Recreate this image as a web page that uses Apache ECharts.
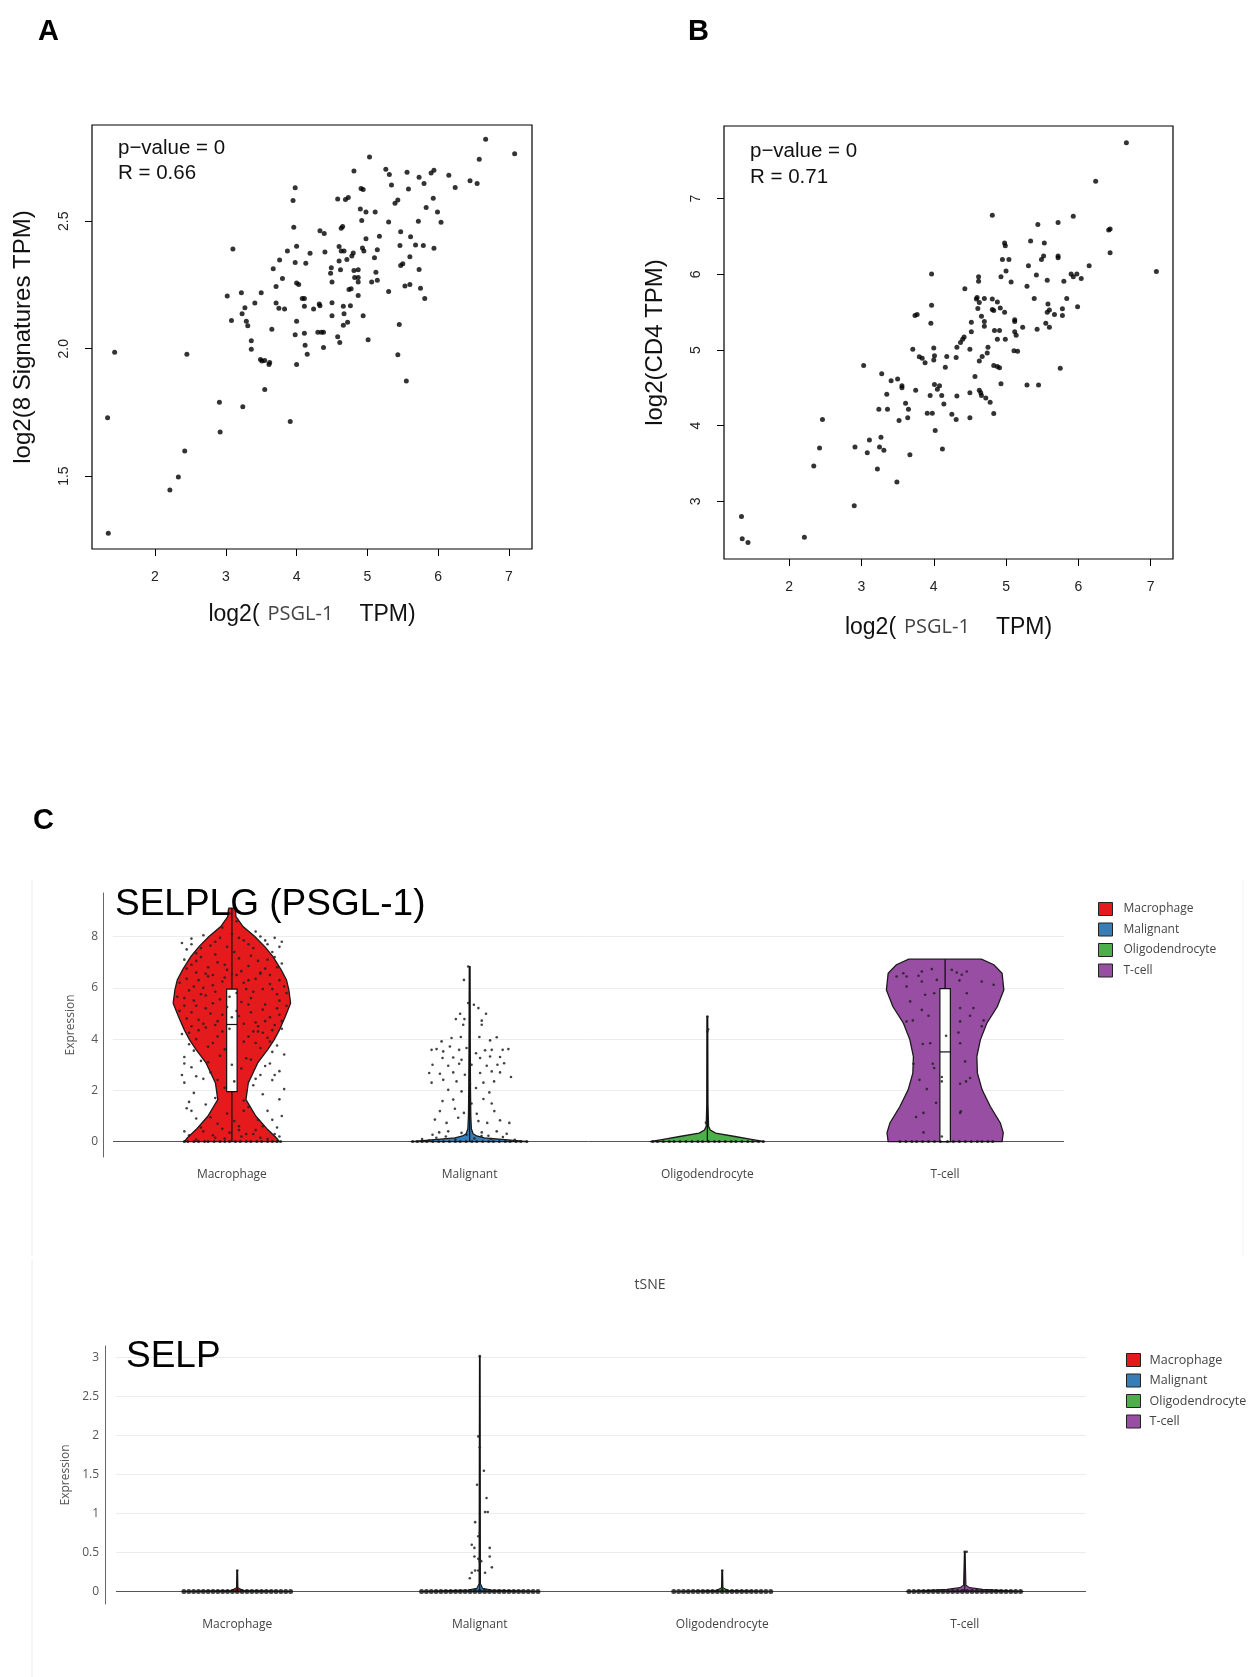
<!DOCTYPE html>
<html><head><meta charset="utf-8">
<script src="https://cdn.jsdelivr.net/npm/echarts@6/dist/echarts.min.js"></script>
<style>html,body{margin:0;padding:0;background:#fff}#c{width:1250px;height:1677px}</style>
</head><body><div id="c"></div>
<script>
// ---------------- DATA ----------------
// Panel A: log2(PSGL-1 TPM) vs log2(8 Signatures TPM)
const scatterA = [[6.67,2.822],[7.08,2.765],[5.03,2.752],[6.58,2.744],[4.81,2.697],[5.26,2.704],[5.31,2.684],[5.56,2.693],[5.73,2.673],[5.90,2.690],[5.94,2.700],[6.15,2.681],[6.45,2.659],[6.55,2.648],[5.80,2.648],[5.34,2.643],[6.24,2.633],[5.58,2.627],[4.91,2.629],[4.94,2.625],[3.98,2.632],[3.95,2.582],[4.58,2.588],[4.69,2.586],[4.73,2.593],[5.43,2.584],[5.39,2.571],[5.93,2.591],[5.83,2.554],[4.90,2.548],[4.98,2.537],[5.11,2.537],[5.99,2.537],[4.92,2.503],[5.30,2.497],[5.72,2.500],[6.04,2.496],[3.96,2.477],[4.63,2.473],[4.65,2.480],[4.33,2.463],[4.39,2.452],[5.47,2.459],[4.98,2.432],[5.17,2.441],[5.61,2.439],[5.46,2.405],[5.68,2.407],[5.79,2.405],[5.94,2.394],[3.10,2.391],[4.00,2.402],[3.87,2.384],[4.60,2.401],[4.63,2.384],[4.93,2.395],[4.95,2.384],[5.14,2.388],[4.19,2.375],[4.40,2.380],[4.80,2.376],[4.78,2.364],[4.67,2.384],[3.76,2.348],[3.98,2.338],[4.13,2.335],[4.60,2.344],[4.71,2.350],[5.10,2.357],[5.60,2.361],[5.50,2.333],[5.47,2.327],[3.67,2.314],[4.49,2.318],[4.62,2.310],[4.81,2.307],[4.87,2.310],[5.12,2.300],[5.73,2.311],[4.48,2.296],[3.80,2.276],[4.82,2.280],[4.87,2.280],[5.14,2.269],[4.50,2.262],[5.06,2.262],[4.87,2.262],[4.00,2.258],[4.03,2.252],[3.71,2.244],[5.53,2.246],[5.60,2.252],[4.74,2.232],[4.77,2.235],[5.75,2.237],[3.22,2.220],[3.50,2.220],[5.30,2.225],[3.02,2.207],[4.87,2.209],[4.08,2.197],[4.11,2.197],[5.81,2.197],[3.41,2.179],[3.71,2.179],[4.32,2.176],[4.50,2.180],[3.75,2.159],[3.83,2.156],[3.27,2.161],[4.11,2.167],[4.24,2.156],[4.33,2.169],[4.66,2.167],[4.76,2.169],[3.23,2.137],[4.50,2.129],[4.67,2.137],[4.94,2.129],[3.08,2.111],[3.29,2.108],[4.00,2.108],[3.31,2.090],[4.66,2.092],[4.72,2.104],[5.45,2.095],[3.65,2.076],[4.30,2.065],[4.35,2.065],[4.38,2.065],[4.11,2.061],[3.98,2.055],[4.58,2.047],[3.36,2.031],[5.01,2.035],[4.61,2.024],[4.12,2.014],[4.38,2.005],[3.36,1.998],[4.15,1.978],[1.43,1.986],[2.45,1.978],[5.43,1.976],[3.49,1.958],[3.55,1.954],[3.51,1.952],[3.62,1.946],[3.61,1.938],[4.00,1.938],[3.55,1.840],[5.55,1.873],[2.91,1.790],[3.24,1.772],[3.91,1.714],[1.33,1.729],[2.92,1.673],[2.42,1.599],[2.33,1.497],[2.21,1.446],[1.34,1.276]];
// Panel B: log2(PSGL-1 TPM) vs log2(CD4 TPM)
const scatterB = [[6.665,7.741],[6.24,7.232],[4.81,6.782],[5.93,6.768],[5.44,6.659],[5.72,6.686],[6.42,6.586],[6.44,6.600],[5.34,6.441],[5.53,6.414],[4.98,6.414],[4.99,6.377],[6.44,6.286],[5.52,6.241],[5.72,6.241],[5.72,6.218],[5.49,6.195],[4.95,6.195],[5.04,6.195],[5.31,6.114],[6.15,6.114],[3.97,6.005],[5.00,6.045],[5.42,5.991],[5.90,6.005],[5.98,6.005],[5.93,5.968],[6.04,5.945],[4.93,5.968],[4.62,5.968],[4.62,5.909],[5.07,5.900],[5.57,5.923],[5.80,5.909],[5.29,5.841],[4.43,5.809],[4.59,5.673],[4.60,5.695],[4.63,5.627],[4.70,5.682],[4.81,5.673],[4.88,5.636],[5.39,5.682],[5.84,5.682],[5.58,5.609],[3.97,5.591],[5.99,5.573],[4.61,5.550],[4.81,5.536],[4.83,5.523],[4.92,5.555],[4.98,5.500],[5.57,5.500],[5.60,5.527],[5.78,5.545],[5.78,5.455],[5.67,5.468],[3.74,5.455],[3.77,5.468],[4.66,5.445],[4.70,5.377],[5.12,5.377],[5.12,5.400],[4.52,5.368],[3.96,5.355],[5.55,5.355],[4.70,5.314],[5.23,5.300],[5.60,5.300],[5.43,5.273],[4.84,5.259],[4.91,5.259],[5.12,5.241],[4.52,5.241],[5.14,5.195],[4.42,5.173],[4.40,5.141],[4.88,5.141],[4.99,5.141],[4.37,5.100],[4.32,5.036],[4.50,5.009],[5.11,4.991],[5.16,4.982],[4.75,5.036],[4.00,5.027],[3.71,5.009],[4.74,4.959],[4.01,4.923],[3.80,4.909],[3.84,4.891],[4.18,4.914],[4.31,4.900],[4.67,4.914],[4.00,4.868],[4.63,4.855],[3.88,4.832],[3.03,4.795],[4.83,4.795],[4.88,4.782],[4.91,4.764],[4.16,4.773],[5.75,4.759],[3.28,4.686],[4.57,4.650],[3.41,4.595],[3.50,4.618],[3.56,4.527],[3.56,4.500],[4.01,4.545],[4.08,4.527],[4.05,4.482],[4.93,4.555],[5.29,4.536],[5.45,4.536],[3.75,4.468],[4.63,4.468],[4.65,4.436],[4.50,4.436],[3.35,4.414],[3.95,4.400],[4.11,4.400],[4.32,4.391],[4.66,4.400],[4.72,4.364],[4.78,4.309],[3.61,4.295],[4.14,4.286],[3.24,4.218],[3.36,4.218],[3.65,4.218],[3.91,4.164],[3.98,4.164],[4.25,4.150],[4.83,4.159],[3.64,4.105],[3.52,4.068],[4.31,4.082],[4.50,4.105],[2.46,4.082],[4.02,3.936],[2.42,3.705],[2.91,3.718],[3.11,3.809],[3.27,3.845],[3.25,3.718],[3.31,3.673],[3.08,3.641],[3.67,3.614],[4.12,3.691],[2.34,3.468],[3.22,3.427],[3.49,3.255],[2.90,2.941],[1.34,2.800],[1.35,2.505],[1.43,2.455],[2.21,2.523],[7.08,6.036]];
const ticksAX = [2,3,4,5,6,7];
const ticksAY = [1.5,2.0,2.5];
const ticksBX = [2,3,4,5,6,7];
const ticksBY = [3,4,5,6,7];
const statsA = ['p\u2212value = 0','R = 0.66'];
const statsB = ['p\u2212value = 0','R = 0.71'];

// Panel C
const cellTypes = ['Macrophage','Malignant','Oligodendrocyte','T-cell'];
const cellColors = ['#e41a1c','#377eb8','#4daf4a','#984ea3'];
// violin outlines: [expression, relative half-width (density)]
const selplgShapeMac = [[0,0.81],[0.14,0.76],[0.47,0.61],[0.99,0.41],[1.64,0.24],[2.29,0.28],[2.68,0.36],[3.07,0.44],[3.59,0.61],[3.97,0.72],[4.36,0.81],[4.88,0.91],[5.40,1.0],[5.92,0.97],[6.31,0.93],[6.70,0.84],[7.22,0.70],[7.61,0.56],[8.0,0.39],[8.39,0.19],[8.78,0.07],[9.04,0.06],[9.11,0.05]];
const selplgShapeMal = [[0,1.0],[0.04,0.8],[0.09,0.55],[0.15,0.25],[0.22,0.12],[0.3,0.06],[0.5,0.03],[1,0.02],[2,0.015],[4,0.01],[6.83,0.006]];
const selplgShapeOli = [[0,0.98],[0.09,0.75],[0.2,0.47],[0.33,0.14],[0.45,0.05],[0.6,0.02],[1.5,0.01],[4.88,0.006]];
const selplgShapeTce = [[0,0.97],[0.34,0.99],[0.73,0.94],[1.37,0.77],[2.02,0.63],[2.67,0.55],[3.32,0.54],[3.97,0.60],[4.62,0.71],[5.27,0.89],[5.92,1.0],[6.57,0.97],[6.9,0.83],[7.12,0.62]];
// box: [min, q1, median, q3, max]
const selplgBox = [[0,1.95,4.57,5.95,9.11],[0,0,0,0,6.83],[0,0,0,0,4.88],[0,0,3.5,5.97,7.12]];
// jittered cells: [jitter offset, expression]
const selplgPtsMac = [[-0.21,7.75],[-0.17,7.92],[-0.12,8.05],[-0.09,7.65],[-0.05,7.95],[0.0,8.1],[0.05,7.85],[0.09,7.55],[0.12,8.0],[0.15,7.7],[0.18,7.95],[0.2,7.6],[0.21,7.8],[-0.19,7.5],[-0.15,7.35],[0.17,7.4],[-0.2,7.1],[-0.17,6.9],[-0.13,7.2],[-0.1,6.8],[-0.06,7.0],[-0.02,6.7],[0.03,7.15],[0.07,6.85],[0.11,7.05],[0.14,6.75],[0.18,7.2],[0.21,6.95],[-0.15,6.6],[0.0,6.55],[0.16,6.5],[-0.08,6.5],[-0.22,6.2],[-0.18,5.9],[-0.14,6.3],[-0.11,5.7],[-0.08,6.1],[-0.05,5.55],[-0.03,6.4],[0.02,5.8],[0.05,6.2],[0.08,5.6],[0.1,6.35],[0.13,5.95],[0.16,6.15],[0.19,5.75],[0.22,6.05],[-0.2,5.6],[0.2,5.5],[-0.12,6.0],[0.06,5.95],[-0.16,5.5],[-0.22,5.1],[-0.19,4.8],[-0.15,5.3],[-0.12,4.6],[-0.09,5.0],[-0.06,4.7],[-0.02,5.25],[0.03,4.9],[0.07,5.35],[0.1,4.65],[0.13,5.15],[0.16,4.85],[0.19,5.2],[0.21,4.7],[-0.17,4.5],[0.11,4.5],[0.0,4.85],[-0.08,5.4],[-0.21,4.2],[-0.18,3.8],[-0.14,4.35],[-0.1,3.7],[-0.06,4.1],[0.05,3.9],[0.09,4.3],[0.12,3.65],[0.15,4.05],[0.19,3.75],[0.21,4.4],[-0.16,3.55],[0.17,3.5],[-0.03,3.6],[-0.2,3.3],[-0.17,2.9],[-0.13,3.15],[-0.09,2.7],[-0.05,3.35],[0.04,2.85],[0.08,3.2],[0.12,2.6],[0.16,3.05],[0.2,2.75],[0.22,3.4],[-0.21,2.6],[0.0,3.0],[-0.2,2.3],[-0.16,1.9],[-0.12,2.45],[-0.07,1.7],[-0.03,2.1],[0.05,1.6],[0.09,2.2],[0.13,1.85],[0.17,2.4],[0.2,1.65],[-0.18,1.55],[0.22,2.05],[0.01,2.35],[-0.19,1.3],[-0.15,0.9],[-0.11,1.45],[-0.06,0.7],[-0.02,1.1],[0.03,0.6],[0.07,1.35],[0.11,0.85],[0.15,1.2],[0.19,0.55],[-0.13,0.55],[0.21,1.0],[-0.18,0.25],[-0.12,0.4],[-0.07,0.15],[-0.01,0.35],[0.04,0.2],[0.1,0.45],[0.15,0.1],[0.18,0.3],[-0.15,0.08],[0.06,0.3],
  [-0.19,6.35],[-0.16,6.05],[-0.13,5.75],[-0.1,6.45],[-0.07,5.85],[-0.04,6.25],[-0.01,5.65],[0.02,6.5],[0.04,5.45],[0.07,6.3],[0.09,5.85],[0.12,6.55],[0.14,5.35],[0.17,5.95],[0.2,6.3],[0.23,5.8],[-0.23,5.65],[-0.2,5.3],[-0.17,5.05],[-0.14,4.75],[-0.11,5.2],[-0.07,4.55],[-0.04,4.95],[-0.01,4.4],[0.02,5.1],[0.05,4.6],[0.08,5.05],[0.11,4.3],[0.14,4.7],[0.17,4.35],[0.2,4.95],[0.23,5.3],[-0.18,4.25],[-0.15,4.0],[-0.11,4.45],[-0.08,3.85],[-0.04,4.3],[0.07,4.1],[0.1,3.85],[0.13,4.25],[0.16,3.9],[0.18,4.55],[-0.19,6.75],[-0.15,7.05],[-0.11,6.55],[-0.07,7.3],[-0.03,6.9],[0.01,7.4],[0.04,6.65],[0.08,7.25],[0.12,6.6],[0.15,7.1],[0.19,6.8],[-0.17,7.7],[-0.13,7.55],[-0.07,7.8],[-0.02,7.6],[0.03,7.95],[0.07,7.7],[0.1,8.2],[0.14,7.85],[-0.04,8.35],[0.02,8.6],[-0.01,8.9],[-0.2,3.05],[-0.15,2.55],[-0.1,3.1],[-0.06,2.4],[0.06,3.25],[0.1,2.45],[0.14,2.95],[0.18,2.6],[-0.17,1.2],[-0.09,0.95],[-0.04,0.5],[0.01,0.8],[0.05,1.2],[0.09,0.3],[0.13,0.6],[0.17,0.85],[-0.2,0.4],[-0.08,0.25],[0.2,0.2],[0.12,0.15],[-0.03,0.12],[0.03,0.45]];
const selplgPtsMal = [[-0.006,6.83],[-0.024,6.31],[-0.006,5.41],[0.018,5.34],[0.037,5.21],[-0.04,4.99],[0.069,4.99],[-0.058,4.78],[-0.022,4.78],[0.051,4.72],[-0.027,4.56],[0.051,4.56],[-0.118,3.91],[-0.076,4.04],[-0.037,4.08],[0.041,4.08],[0.086,3.95],[0.114,4.07],[-0.16,3.58],[-0.139,3.61],[-0.111,3.52],[-0.083,3.71],[-0.044,3.58],[-0.013,3.65],[0.027,3.45],[0.065,3.56],[0.093,3.58],[0.139,3.58],[0.163,3.61],[-0.114,3.26],[-0.069,3.28],[-0.034,3.19],[0.044,3.26],[0.086,3.32],[0.128,3.30],[-0.156,3.0],[-0.09,2.96],[-0.044,3.04],[0.008,3.0],[0.072,2.96],[0.117,3.0],[0.145,3.06],[-0.17,2.68],[-0.125,2.65],[-0.069,2.70],[-0.02,2.61],[0.044,2.68],[0.093,2.74],[0.128,2.70],[0.174,2.52],[-0.16,2.3],[-0.111,2.41],[-0.055,2.35],[0.001,2.28],[0.058,2.3],[0.103,2.35],[-0.09,2.02],[-0.034,1.96],[0.027,2.09],[0.083,1.92],[-0.114,1.58],[-0.069,1.64],[0.008,1.49],[0.058,1.66],[0.093,1.49],[-0.125,1.19],[-0.062,1.28],[-0.024,1.12],[0.03,1.09],[0.104,1.19],[-0.146,0.86],[-0.097,0.73],[-0.048,0.93],[0.037,0.80],[0.074,0.73],[0.128,0.83],[0.167,0.73],[-0.128,0.36],[-0.09,0.4],[-0.034,0.34],[0.051,0.36],[0.114,0.4],[0.156,0.31],[-0.156,0.27],[-0.013,0.27],[0.079,0.23],
  [-0.2,0.1],[-0.14,0.15],[-0.06,0.08],[0.02,0.12],[0.09,0.1],[0.14,0.18],[0.19,0.07],[-0.1,0.2],[0.05,0.22],[-0.17,0.05]];
const selplgPtsOli = [[-0.006,0.74],[0.0,4.3],[0.003,4.38],[0.0,4.88]];
const selplgPtsTce = [[-0.204,6.44],[-0.176,6.57],[-0.162,6.44],[-0.112,6.47],[-0.098,6.64],[-0.056,6.73],[-0.035,6.31],[0.028,6.70],[0.049,6.60],[0.07,6.51],[0.091,6.64],[0.154,6.25],[0.204,6.12],[-0.162,6.05],[-0.098,6.25],[0.06,6.29],[-0.046,5.79],[-0.084,5.73],[0.091,5.79],[-0.147,5.47],[-0.098,5.14],[0.063,5.21],[0.119,5.21],[0.105,4.91],[-0.136,4.73],[-0.162,4.69],[-0.07,4.91],[0.162,4.73],[0.154,4.5],[0.063,4.69],[0.004,4.13],[0.056,4.26],[0.063,3.84],[-0.094,3.81],[-0.063,3.84],[0.084,3.13],[-0.133,3.04],[-0.052,3.04],[-0.046,2.87],[-0.014,2.52],[-0.014,2.35],[-0.108,2.41],[-0.077,2.05],[0.063,2.26],[0.088,2.35],[0.105,2.48],[-0.038,1.51],[-0.091,1.12],[-0.122,0.96],[0.063,1.12],[0.066,1.18],[-0.091,0.36],[-0.014,0.2]];
// cells with zero expression (jitter offsets)
const selplgZeroMac = [-0.2,-0.185,-0.16,-0.14,-0.115,-0.1,-0.075,-0.05,-0.03,-0.01,0.015,0.035,0.06,0.08,0.105,0.125,0.15,0.17,0.19,0.205];
const selplgZeroMal = [-0.24,-0.22,-0.2,-0.18,-0.155,-0.13,-0.11,-0.085,-0.06,-0.04,-0.015,0.01,0.03,0.055,0.08,0.1,0.125,0.15,0.17,0.195,0.215,0.24];
const selplgZeroOli = [-0.23,-0.21,-0.185,-0.16,-0.14,-0.115,-0.09,-0.065,-0.04,-0.02,0.005,0.03,0.05,0.075,0.1,0.12,0.145,0.17,0.19,0.215,0.235];
const selplgZeroTce = [-0.19,-0.165,-0.14,-0.12,-0.095,-0.07,-0.045,-0.02,0.01,0.035,0.06,0.085,0.11,0.135,0.155,0.18,0.2];

const selpShapeMac = [[0,0.93],[0.006,0.6],[0.012,0.1],[0.05,0.012],[0.27,0.006]];
const selpShapeMal = [[0,1.0],[0.01,0.6],[0.02,0.2],[0.04,0.05],[0.1,0.012],[3.02,0.005]];
const selpShapeOli = [[0,0.72],[0.006,0.5],[0.012,0.1],[0.05,0.012],[0.27,0.006]];
const selpShapeTce = [[0,1.0],[0.015,0.6],[0.03,0.3],[0.05,0.08],[0.08,0.02],[0.51,0.006]];
const selpBox = [[0,0,0,0,0.27],[0,0,0,0,3.02],[0,0,0,0,0.27],[0,0,0,0,0.51]];
const selpPtsMac = [[0,0.27]];
const selpPtsMal = [[0,3.02],[-0.006,1.99],[0,1.85],[0.017,1.55],[-0.011,1.37],[0.028,1.2],[0.022,1.02],[0.033,1.02],[-0.019,0.89],[0,0.75],[-0.006,0.71],[-0.033,0.6],[-0.022,0.56],[0.041,0.56],[-0.022,0.45],[-0.006,0.42],[0.041,0.45],[0,0.39],[0.05,0.31],[-0.019,0.27],[-0.006,0.27],[0.022,0.24],[-0.033,0.24],[-0.041,0.17],[0.006,0.39]];
const selpPtsOli = [[0,0.27]];
const selpPtsTce = [[0,0.51],[0.008,0.51]];
const selpZeroMac = [-0.22,-0.2,-0.18,-0.16,-0.14,-0.12,-0.1,-0.08,-0.06,-0.04,-0.02,0.0,0.02,0.04,0.06,0.08,0.1,0.12,0.14,0.16,0.18,0.2,0.22];
const selpZeroMal = [-0.24,-0.22,-0.2,-0.18,-0.16,-0.14,-0.12,-0.1,-0.08,-0.06,-0.04,-0.02,0.0,0.02,0.04,0.06,0.08,0.1,0.12,0.14,0.16,0.18,0.2,0.22,0.24];
const selpZeroOli = [-0.2,-0.18,-0.16,-0.14,-0.12,-0.1,-0.08,-0.06,-0.04,-0.02,0.0,0.02,0.04,0.06,0.08,0.1,0.12,0.14,0.16,0.18,0.2];
const selpZeroTce = [-0.23,-0.21,-0.19,-0.17,-0.15,-0.13,-0.11,-0.09,-0.07,-0.05,-0.03,-0.01,0.01,0.03,0.05,0.07,0.09,0.11,0.13,0.15,0.17,0.19,0.21,0.23];

const ticksSELPLG = [0,2,4,6,8];
const ticksSELP = [0,0.5,1,1.5,2,2.5,3];

// ---------------- RENDER ----------------
const RF = 'Liberation Sans, Arial, Helvetica, sans-serif';
const PF = 'Open Sans, Noto Sans, sans-serif';
const VHALF_TOP = 0.247, VHALF_BOT = 0.243, BOXHALF = 0.022;

function makeViolin(shape, half, lw) {
  return function (params, api) {
    const k = api.value(0);
    const pts = [];
    for (const [v, d] of shape) pts.push(api.coord([k + d * half, v]));
    for (let i = shape.length - 1; i >= 0; i--) pts.push(api.coord([k - shape[i][1] * half, shape[i][0]]));
    return { type: 'polygon', shape: { points: pts }, style: { fill: api.visual('color'), stroke: '#1a1a1a', lineWidth: lw } };
  };
}
function makeBox(boxes, lw) {
  return function (params, api) {
    const k = api.value(0);
    const [lo, q1, med, q3, hi] = boxes[k];
    const ch = [];
    const a = api.coord([k, lo]), b = api.coord([k, hi]);
    ch.push({ type: 'line', shape: { x1: a[0], y1: a[1], x2: b[0], y2: b[1] }, style: { stroke: '#111', lineWidth: lw } });
    if (q3 > q1) {
      const tl = api.coord([k - BOXHALF, q3]), br = api.coord([k + BOXHALF, q1]);
      ch.push({ type: 'rect', shape: { x: tl[0], y: tl[1], width: br[0] - tl[0], height: br[1] - tl[1] }, style: { fill: '#fff', stroke: '#111', lineWidth: 1.2 } });
      const m1 = api.coord([k - BOXHALF, med]), m2 = api.coord([k + BOXHALF, med]);
      ch.push({ type: 'line', shape: { x1: m1[0], y1: m1[1], x2: m2[0], y2: m2[1] }, style: { stroke: '#111', lineWidth: 1.2 } });
    }
    return { type: 'group', children: ch };
  };
}
function gatherPts(ptsList) {
  const out = [];
  ptsList.forEach((arr, k) => arr.forEach(([o, v]) => out.push([k + o, v])));
  return out;
}
function gatherZero(zeroList) {
  const out = [];
  zeroList.forEach((arr, k) => arr.forEach(o => out.push([k + o, 0])));
  return out;
}

function rX(grid, min, max, ticks, nameGap) {
  return {
    type: 'value', gridIndex: grid, min, max,
    axisLine: { show: false, onZero: false }, splitLine: { show: false },
    axisTick: { show: true, inside: false, length: 7, customValues: ticks, lineStyle: { color: '#000', width: 1 } },
    axisLabel: { customValues: ticks, margin: 21, color: '#222', fontSize: 14, fontFamily: RF },
    name: '{a|log2(}{b|PSGL-1}{a|TPM)}', nameLocation: 'middle', nameGap,
    nameTextStyle: { rich: {
      a: { fontSize: 23, fontFamily: RF, color: '#111' },
      b: { fontSize: 20, fontFamily: PF, color: '#444', padding: [0, 26, 0, 8] } } }
  };
}
function rY(grid, min, max, ticks, name, fmt) {
  return {
    type: 'value', gridIndex: grid, min, max,
    axisLine: { show: false, onZero: false }, splitLine: { show: false },
    axisTick: { show: true, inside: false, length: 7, customValues: ticks, lineStyle: { color: '#000', width: 1 } },
    axisLabel: { customValues: ticks, margin: 21, rotate: 90, color: '#222', fontSize: 14, fontFamily: RF, formatter: fmt },
    name, nameLocation: 'middle', nameGap: 57, nameTextStyle: { fontSize: 24, fontFamily: RF, color: '#111' }
  };
}

const legendData = cellTypes.map((c, i) => ({ name: c, itemStyle: { color: cellColors[i], borderColor: '#222', borderWidth: 1 } }));

const series = [
  { type: 'scatter', xAxisIndex: 0, yAxisIndex: 0, data: scatterA, symbolSize: 5, itemStyle: { color: '#000' }, silent: true },
  { type: 'scatter', xAxisIndex: 1, yAxisIndex: 1, data: scatterB, symbolSize: 5, itemStyle: { color: '#000' }, silent: true }
];
const topShapes = [selplgShapeMac, selplgShapeMal, selplgShapeOli, selplgShapeTce];
const botShapes = [selpShapeMac, selpShapeMal, selpShapeOli, selpShapeTce];
cellTypes.forEach((c, k) => {
  series.push({ type: 'custom', name: c, xAxisIndex: 3, yAxisIndex: 2, z: 2, data: [[k, 0]], itemStyle: { color: cellColors[k] }, renderItem: makeViolin(topShapes[k], VHALF_TOP, 1.3), silent: true });
  series.push({ type: 'custom', name: c, xAxisIndex: 5, yAxisIndex: 3, z: 2, data: [[k, 0]], itemStyle: { color: cellColors[k] }, renderItem: makeViolin(botShapes[k], VHALF_BOT, 1.1), silent: true });
});
series.push({ type: 'custom', xAxisIndex: 3, yAxisIndex: 2, z: 3, data: [[0], [1], [2], [3]], renderItem: makeBox(selplgBox, 1.3), silent: true });
series.push({ type: 'custom', xAxisIndex: 5, yAxisIndex: 3, z: 3, data: [[0], [1], [2], [3]], renderItem: makeBox(selpBox, 1.1), silent: true });
series.push({ type: 'scatter', xAxisIndex: 3, yAxisIndex: 2, z: 4, symbolSize: 2.6, itemStyle: { color: '#222', opacity: 0.85 }, silent: true,
  data: gatherPts([selplgPtsMac, selplgPtsMal, selplgPtsOli, selplgPtsTce]) });
series.push({ type: 'scatter', xAxisIndex: 3, yAxisIndex: 2, z: 4, symbolSize: 3, itemStyle: { color: '#111' }, silent: true,
  data: gatherZero([selplgZeroMac, selplgZeroMal, selplgZeroOli, selplgZeroTce]) });
series.push({ type: 'scatter', xAxisIndex: 5, yAxisIndex: 3, z: 4, symbolSize: 2.6, itemStyle: { color: '#222', opacity: 0.85 }, silent: true,
  data: gatherPts([selpPtsMac, selpPtsMal, selpPtsOli, selpPtsTce]) });
series.push({ type: 'scatter', xAxisIndex: 5, yAxisIndex: 3, z: 4, symbolSize: 5, itemStyle: { color: '#111' }, silent: true,
  data: gatherZero([selpZeroMac, selpZeroMal, selpZeroOli, selpZeroTce]) });

function txt(x, y, text, font, fill, align) {
  return { type: 'text', z: 10, silent: true, style: { x, y, text, font, fill: fill || '#000', align: align || 'left', verticalAlign: 'middle', textAlign: align || 'left', textVerticalAlign: 'middle' } };
}

const option = {
  animation: false,
  backgroundColor: '#fff',
  textStyle: { fontFamily: PF },
  grid: [
    { left: 92, top: 125, width: 440, height: 424, show: true, borderColor: '#000', borderWidth: 1.2, backgroundColor: 'transparent', outerBoundsMode: 'none' },
    { left: 724, top: 126, width: 449, height: 433, show: true, borderColor: '#000', borderWidth: 1.2, backgroundColor: 'transparent', outerBoundsMode: 'none' },
    { left: 113, top: 893, width: 951, height: 264, outerBoundsMode: 'none' },
    { left: 116, top: 1346, width: 970, height: 258, outerBoundsMode: 'none' }
  ],
  xAxis: [
    rX(0, 1.11, 7.325, ticksAX, 54),
    rX(1, 1.098, 7.31, ticksBX, 57),
    { type: 'category', gridIndex: 2, data: cellTypes, axisLine: { show: false, onZero: false }, axisTick: { show: false }, splitLine: { show: false },
      axisLabel: { margin: 12, color: '#444', fontSize: 12, fontFamily: PF } },
    { type: 'value', gridIndex: 2, min: -0.5, max: 3.5, show: false, axisLine: { onZero: false } },
    { type: 'category', gridIndex: 3, data: cellTypes, axisLine: { show: false, onZero: false }, axisTick: { show: false }, splitLine: { show: false },
      axisLabel: { margin: 15, color: '#444', fontSize: 12, fontFamily: PF } },
    { type: 'value', gridIndex: 3, min: -0.5, max: 3.5, show: false, axisLine: { onZero: false } }
  ],
  yAxis: [
    rY(0, 1.214, 2.878, ticksAY, 'log2(8 Signatures TPM)', v => v.toFixed(1)),
    rY(1, 2.237, 7.961, ticksBY, 'log2(CD4 TPM)', v => String(v)),
    { type: 'value', gridIndex: 2, min: -0.6, max: 9.7, offset: 10,
      axisLine: { show: true, onZero: false, lineStyle: { color: '#666', width: 1 } },
      axisTick: { show: false, customValues: ticksSELPLG },
      axisLabel: { customValues: ticksSELPLG, margin: 5, color: '#555', fontSize: 12, fontFamily: PF },
      splitLine: { show: true, lineStyle: { color: ['#555', '#ececec', '#ececec', '#ececec', '#ececec'], width: 1 } },
      name: 'Expression', nameLocation: 'middle', nameGap: 26, nameTextStyle: { color: '#555', fontSize: 12, fontFamily: PF } },
    { type: 'value', gridIndex: 3, min: -0.16, max: 3.15, offset: 11,
      axisLine: { show: true, onZero: false, lineStyle: { color: '#666', width: 1 } },
      axisTick: { show: false, customValues: ticksSELP },
      axisLabel: { customValues: ticksSELP, margin: 6, color: '#555', fontSize: 12, fontFamily: PF },
      splitLine: { show: true, lineStyle: { color: ['#555', '#ececec', '#ececec', '#ececec', '#ececec', '#ececec', '#ececec'], width: 1 } },
      name: 'Expression', nameLocation: 'middle', nameGap: 27, nameTextStyle: { color: '#555', fontSize: 12, fontFamily: PF } }
  ],
  legend: [
    { data: legendData, orient: 'vertical', left: 1098, top: 902, itemWidth: 14, itemHeight: 13, itemGap: 6.5, icon: 'rect', selectedMode: false, padding: 0,
      textStyle: { color: '#444', fontSize: 12, lineHeight: 13, fontFamily: PF, padding: [0, 0, 0, 6] } },
    { data: legendData, orient: 'vertical', left: 1126, top: 1353, itemWidth: 14, itemHeight: 13, itemGap: 6.5, icon: 'rect', selectedMode: false, padding: 0,
      textStyle: { color: '#444', fontSize: 12.5, lineHeight: 13, fontFamily: PF, padding: [0, 0, 0, 4] } }
  ],
  graphic: [
    txt(38, 32, 'A', 'bold 29px ' + RF),
    txt(688, 32, 'B', 'bold 29px ' + RF),
    txt(33, 821, 'C', 'bold 29px ' + RF),
    txt(118, 148, statsA[0], '20.5px ' + RF, '#111'),
    txt(118, 173, statsA[1], '20.5px ' + RF, '#111'),
    txt(750, 151, statsB[0], '20.5px ' + RF, '#111'),
    txt(750, 177, statsB[1], '20.5px ' + RF, '#111'),
    txt(115, 905, 'SELPLG (PSGL-1)', '37px ' + RF, '#000'),
    txt(126, 1357, 'SELP', '37px ' + RF, '#000'),
    txt(650, 1285, 'tSNE', '14px ' + PF, '#444', 'center'),
    { type: 'line', silent: true, z: 0, shape: { x1: 32, y1: 880, x2: 32, y2: 1256 }, style: { stroke: '#ececec', lineWidth: 1 } },
    { type: 'line', silent: true, z: 0, shape: { x1: 32, y1: 1260, x2: 32, y2: 1677 }, style: { stroke: '#ececec', lineWidth: 1 } },
    { type: 'line', silent: true, z: 0, shape: { x1: 1243, y1: 880, x2: 1243, y2: 1256 }, style: { stroke: '#f2f2f2', lineWidth: 1 } }
  ],
  series
};
const chart = echarts.init(document.getElementById('c'), null, { renderer: 'canvas', width: 1250, height: 1677 });
chart.setOption(option);
</script></body></html>
